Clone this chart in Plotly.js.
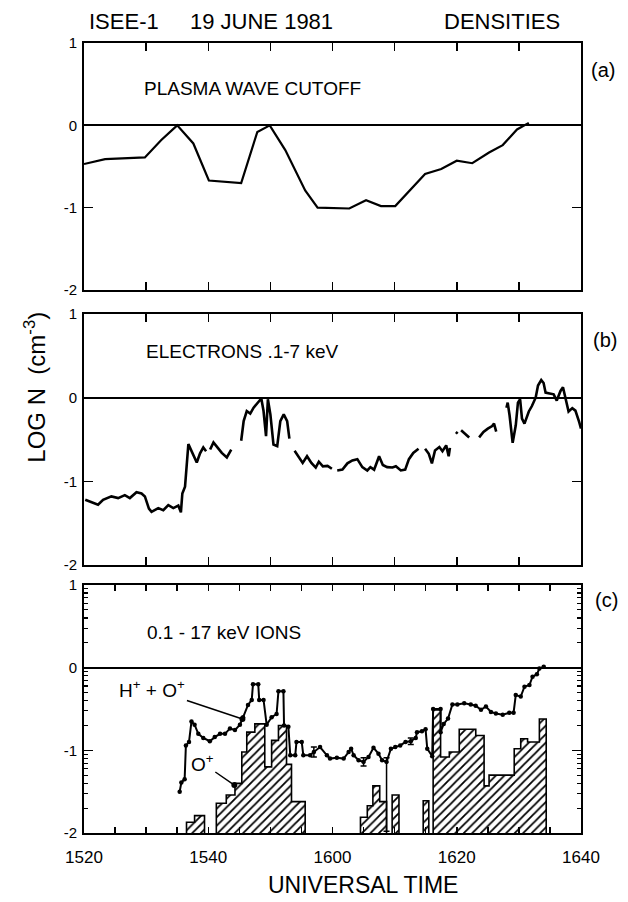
<!DOCTYPE html>
<html>
<head>
<meta charset="utf-8">
<script src="https://cdn.plot.ly/plotly-3.0.1.min.js"></script>
<style>html,body{margin:0;padding:0;background:#fff;}#chart{width:628px;height:902px;}</style>
</head>
<body>
<div id="chart"></div>
<script>
// Time in minutes after 15:20 UT
const tickPositions = [0, 20, 40, 60, 80];
const tickLabels = ["1520", "1540", "1600", "1620", "1640"];

// (a) Plasma wave cutoff density, log N
const tA = [0, 3.4, 9.8, 12.4, 15.0, 17.6, 20.1, 25.3, 27.9, 29.9, 32.4, 35.6, 37.6, 42.7, 45.4, 47.8, 50.1, 54.9, 57.5, 60.0, 62.5, 65.2, 67.4, 69.7, 71.6];
const nA = [-0.47, -0.41, -0.39, -0.18, 0.0, -0.22, -0.67, -0.70, -0.08, 0.0, -0.30, -0.79, -1.0, -1.01, -0.91, -0.98, -0.98, -0.59, -0.53, -0.43, -0.46, -0.33, -0.24, -0.05, 0.03];

// (b) Electrons .1-7 keV, log N (null = data gap)
const tB = [0.2, 1.19, 2.26, 3.07, 4.41, 5.49, 6.57, 7.38, 8.45, 9.26, 9.8, 10.45, 10.87, 11.95, 12.76, 13.57, 14.38, 15.18, 15.6, 15.83, 16.26, 16.8, 17.34, 18.15, 18.68, 19.2, 19.65,
  19.9, 20.3, 20.84, 21.54, 22.18, 22.99, 23.7,
  24.5, 25.3, 25.7, 26.2, 26.76, 27.3, 28.1, 28.54, 28.9, 29.3, 29.6, 30.0, 30.5, 31.1, 31.6, 32.15, 32.7, 33.06,
  33.5, 33.9, 34.6, 35.2, 35.9, 36.6, 37.3, 37.8, 38.45, 39.2, 39.9,
  40.3, 40.76, 41.6, 42.4, 43.2, 44.0, 44.8, 45.6, 46.1, 46.7, 47.5, 48.1, 48.8, 49.65, 50.2, 51.0, 51.7, 52.3, 53.0, 53.85,
  54.4, 54.9, 55.5, 56.0, 56.5, 57.2, 57.7, 58.3, 58.7, 58.9,
  59.5, 59.85, 60.15,
  60.4, 60.7, 61.4, 62.0,
  62.8, 63.6, 64.3, 65.0, 65.7, 66.0, 66.35,
  67.2, 68.0, 68.2, 68.5, 68.8, 69.0, 69.5, 69.85, 70.2, 70.5, 70.9, 71.6, 72.1, 72.7, 73.08, 73.6, 73.98, 74.3, 74.95, 75.6, 76.1, 76.7, 77.1, 77.5, 78.0, 78.6, 79.1, 79.7, 80.0];
const nB = [-1.22, -1.245, -1.28, -1.22, -1.18, -1.20, -1.165, -1.20, -1.13, -1.145, -1.18, -1.325, -1.365, -1.32, -1.345, -1.285, -1.32, -1.29, -1.37, -1.145, -1.065, -0.555, -0.64, -0.775, -0.665, -0.595, -0.64,
  null, -0.62, -0.535, -0.60, -0.66, -0.715, -0.62,
  null, -0.515, -0.28, -0.16, -0.19, -0.12, -0.04, -0.01, -0.16, -0.46, -0.02, -0.20, -0.56, -0.58, -0.28, -0.20, -0.28, -0.49,
  null, -0.635, -0.72, -0.78, -0.70, -0.78, -0.835, -0.765, -0.82, -0.815, -0.85,
  null, -0.87, -0.86, -0.785, -0.75, -0.735, -0.83, -0.87, -0.83, -0.86, -0.70, -0.805, -0.83, -0.835, -0.82, -0.87, -0.86, -0.735, -0.66, -0.61,
  null, -0.61, -0.67, -0.785, -0.63, -0.59, -0.64, -0.57, -0.70, -0.60,
  null, -0.41, -0.43,
  null, -0.39, -0.43, -0.475,
  null, -0.475, -0.41, -0.37, -0.34, -0.31, -0.405,
  null, -0.12, -0.06, -0.21, -0.37, -0.54, -0.33, -0.06, -0.02, -0.25, -0.31, -0.165, -0.10, 0.0, 0.145, 0.21, 0.175, 0.06, 0.05, 0.04, -0.035, 0.08, 0.125, -0.02, -0.165, -0.125, -0.155, -0.29, -0.37];

// (c) 0.1-17 keV ions: H+ + O+ total, log N
const tH = [15.4, 15.67, 16.2, 16.4, 16.9, 17.3, 17.8, 18.4, 19.2, 20.25, 21.05, 21.9, 22.7, 23.5, 24.3, 25.1, 25.6, 26.4, 27.0, 27.2, 28.05, 28.2, 28.9, 29.4, 30.2, 31.0, 31.3, 32.1, 32.2, 32.9, 33.2, 34.0, 34.2, 35.05, 35.3, 36.4, 37.0, 38.0, 39.1,
  39.6, 40.7, 41.8, 42.6, 43.0, 43.4, 44.2, 45.0, 45.8, 46.6, 47.4, 47.98, 48.7, 49.4, 50.1, 50.9, 51.75, 52.6, 53.4, 53.6, 54.4, 54.98, 55.25, 56.05, 56.2, 57.4, 57.4, 57.9, 58.6, 59.3, 60.1, 61.2, 62.25, 63.05, 63.9, 64.7, 65.5, 66.3, 67.4, 68.45, 69.15, 69.5, 70.3, 70.9, 71.7, 72.2, 72.9, 73.3, 74.0];
const nH = [-1.50, -1.39, -1.35, -0.94, -0.90, -0.65, -0.69, -0.80, -0.85, -0.89, -0.84, -0.80, -0.80, -0.735, -0.755, -0.69, -0.60, -0.45, -0.39, -0.20, -0.20, -0.39, -0.39, -0.69, -0.60, -0.56, -0.285, -0.285, -0.70, -0.715, -1.06, -1.06, -0.90, -0.90, -1.06, -1.06, -1.02, -0.96, -1.06,
  -1.10, -1.09, -1.10, -1.02, -0.98, -1.06, -1.12, -1.14, -1.08, -0.97, -1.04, -1.12, -1.14, -0.98, -0.96, -0.94, -0.90, -0.89, -0.85, -0.78, -0.77, -0.745, -0.98, -1.07, -0.50, -0.50, -0.78, -0.68, -0.615, -0.445, -0.445, -0.43, -0.445, -0.46, -0.51, -0.47, -0.535, -0.555, -0.57, -0.545, -0.545, -0.33, -0.35, -0.23, -0.21, -0.11, -0.08, -0.01, 0.01];

// Error bars on selected H+ + O+ points
const errT = [37.0, 45.0, 48.7, 52.6];
const errV = [-1.02, -1.14, -1.14, -0.89];
const errHi = [0.06, 0.05, 0.05, 0.04];
const errLo = [0.06, 0.05, 0.84, 0.04];

// O+ histogram bins (start, end in minutes after 15:20; log N)
const oStart = [16.5, 17.8, 21.3, 22.9, 24.3, 25.4, 26.2, 27.5, 29.1, 30.2, 31.3, 32.6, 33.4, 44.5, 45.6, 46.5, 47.6, 49.6, 54.6, 56.2, 57.4, 58.8, 60.4, 63.06, 64.4, 65.2, 69.25, 70.3, 71.4, 73.3];
const oEnd   = [17.8, 19.4, 22.9, 24.3, 25.4, 26.2, 27.5, 29.1, 30.2, 31.3, 32.6, 33.4, 35.6, 45.6, 46.5, 47.6, 48.7, 50.7, 55.5, 57.4, 58.8, 60.4, 63.06, 64.4, 65.2, 69.25, 70.3, 71.4, 73.3, 74.4];
const oVal   = [-1.87, -1.79, -1.64, -1.54, -1.40, -1.02, -0.78, -0.68, -1.20, -0.88, -0.70, -1.17, -1.62, -1.81, -1.67, -1.43, -1.62, -1.54, -1.61, -0.51, -1.08, -1.02, -0.745, -0.82, -1.43, -1.30, -0.98, -0.86, -0.90, -0.62];

const yBase = -2;
const FONT = "Liberation Sans, Arial, sans-serif";

// Step outline of the O+ histogram, built from the bins
const oOutX = [], oOutY = [];
oStart.forEach((s, i) => {
  const contiguous = i > 0 && Math.abs(oEnd[i - 1] - s) < 1e-6;
  if (!contiguous) {
    if (i > 0) { oOutX.push(oEnd[i - 1]); oOutY.push(yBase); oOutX.push(null); oOutY.push(null); }
    oOutX.push(s); oOutY.push(yBase);
  }
  oOutX.push(s); oOutY.push(oVal[i]);
  oOutX.push(oEnd[i]); oOutY.push(oVal[i]);
});
oOutX.push(oEnd[oEnd.length - 1]); oOutY.push(yBase);

const traces = [
  {x: tA, y: nA, type: 'scatter', mode: 'lines', line: {color: 'black', width: 2.2}, xaxis: 'x', yaxis: 'y', hoverinfo: 'skip'},
  {x: tB, y: nB, type: 'scatter', mode: 'lines', connectgaps: false, line: {color: 'black', width: 2.6}, xaxis: 'x2', yaxis: 'y2', hoverinfo: 'skip'},
  {x: oStart.map((s, i) => (s + oEnd[i]) / 2), y: oVal.map(v => v - yBase), base: yBase,
   width: oStart.map((s, i) => oEnd[i] - s), type: 'bar', xaxis: 'x3', yaxis: 'y3',
   marker: {color: 'white', line: {width: 0},
            pattern: {shape: '/', fgcolor: 'black', bgcolor: 'white', size: 6, solidity: 0.3}}, hoverinfo: 'skip'},
  {x: oOutX, y: oOutY, type: 'scatter', mode: 'lines', connectgaps: false, line: {color: 'black', width: 1.6},
   xaxis: 'x3', yaxis: 'y3', hoverinfo: 'skip'},
  {x: tH, y: nH, type: 'scatter', mode: 'lines+markers', line: {color: 'black', width: 2},
   marker: {color: 'black', size: 4.5}, xaxis: 'x3', yaxis: 'y3', hoverinfo: 'skip'},
  {x: errT, y: errV, type: 'scatter', mode: 'markers', marker: {size: 1, color: 'black'},
   error_y: {type: 'data', symmetric: false, array: errHi, arrayminus: errLo, color: 'black', thickness: 1.5, width: 3},
   xaxis: 'x3', yaxis: 'y3', hoverinfo: 'skip'}
];

const xTicks10 = [0, 10, 20, 30, 40, 50, 60, 70, 80];
const xTicks5 = []; for (let m = 0; m <= 80; m += 5) xTicks5.push(m);
const xText5 = xTicks5.map(m => { const k = tickPositions.indexOf(m); return k >= 0 ? tickLabels[k] : ''; });
const logMinor = [];
[-2, -1, 0].forEach(d => [2, 3, 4, 5, 6, 7, 8, 9].forEach(k => logMinor.push(d + Math.log10(k))));

function xAxis(anchor, withLabels) {
  const a = {domain: [0, 1], range: [0, 80], anchor: anchor, showline: true, linecolor: 'black', linewidth: 2,
    mirror: 'allticks', ticks: 'inside', ticklen: 8, tickwidth: 1.5, tickcolor: 'black',
    showgrid: false, zeroline: false, fixedrange: true,
    tickfont: {family: FONT, size: 17, color: 'black'}};
  if (withLabels) {
    a.tickmode = 'array'; a.tickvals = xTicks5; a.ticktext = xText5; a.ticklen = 6; a.showticklabels = true;
    a.ticklabelstandoff = 8;
  } else {
    a.tickmode = 'array'; a.tickvals = xTicks10; a.showticklabels = false;
  }
  return a;
}
function yAxis(anchor, dom, minor) {
  const a = {domain: dom, range: [-2, 1], anchor: anchor, showline: true, linecolor: 'black', linewidth: 2,
    mirror: 'allticks', ticks: 'inside', ticklen: 9, tickwidth: 1.5, tickcolor: 'black',
    tickmode: 'array', tickvals: [-2, -1, 0, 1], ticktext: ['-2', '-1', '0', '1'],
    showgrid: false, zeroline: true, zerolinecolor: 'black', zerolinewidth: 2.2, fixedrange: true,
    ticklabelstandoff: 2,
    tickfont: {family: FONT, size: 15, color: 'black'}};
  if (minor) a.minor = {tickmode: 'array', tickvals: logMinor, ticks: 'inside', ticklen: 4, tickwidth: 1.2, tickcolor: 'black', showgrid: false};
  return a;
}

const ann = (text, x, y, size, extra) => Object.assign({text: text, x: x, y: y, xref: 'paper', yref: 'paper',
  xanchor: 'center', yanchor: 'middle',
  showarrow: false, font: {family: FONT, size: size, color: 'black'}}, extra || {});

const layout = {
  width: 628, height: 902, paper_bgcolor: 'white', plot_bgcolor: 'white',
  margin: {l: 84, r: 47, t: 43, b: 69}, showlegend: false, barmode: 'overlay', bargap: 0,
  xaxis: xAxis('y', false), yaxis: yAxis('x', [0.6873, 1], false),
  xaxis2: xAxis('y2', false), yaxis2: yAxis('x2', [0.3392, 0.657], false),
  xaxis3: xAxis('y3', true), yaxis3: yAxis('x3', [0, 0.3139], true),
  annotations: [
    ann('ISEE-1', 0.0805, 1.027, 22),
    ann('19 JUNE 1981', 0.358, 1.027, 22),
    ann('DENSITIES', 0.841, 1.027, 22),
    ann('(a)', 1.044, 0.966, 20),
    ann('(b)', 1.048, 0.624, 20),
    ann('(c)', 1.052, 0.295, 20),
    ann('PLASMA WAVE CUTOFF', 0.1167, 0.943, 19, {xanchor: 'left'}),
    ann('ELECTRONS .1-7 keV', 0.1207, 0.609, 19, {xanchor: 'left'}),
    ann('0.1 - 17 keV IONS', 0.1227, 0.254, 19, {xanchor: 'left'}),
    ann('LOG N  (cm<sup>-3</sup>)', -0.0986, 0.565, 24, {textangle: -90}),
    ann('UNIVERSAL TIME', 0.561, -0.066, 23),
    {text: 'H<sup>+</sup> + O<sup>+</sup>', x: 25.5, y: -0.62, xref: 'x3', yref: 'y3', showarrow: true,
     ax: -90, ay: -30, arrowhead: 6, arrowsize: 1, arrowwidth: 1.5, arrowcolor: 'black',
     font: {family: FONT, size: 19, color: 'black'}},
    {text: 'O<sup>+</sup>', x: 24.2, y: -1.42, xref: 'x3', yref: 'y3', showarrow: true,
     ax: -32, ay: -22, arrowhead: 6, arrowsize: 1, arrowwidth: 1.5, arrowcolor: 'black',
     font: {family: FONT, size: 19, color: 'black'}}
  ]
};

Plotly.newPlot('chart', traces, layout, {displayModeBar: false, staticPlot: true});
</script>
</body>
</html>
